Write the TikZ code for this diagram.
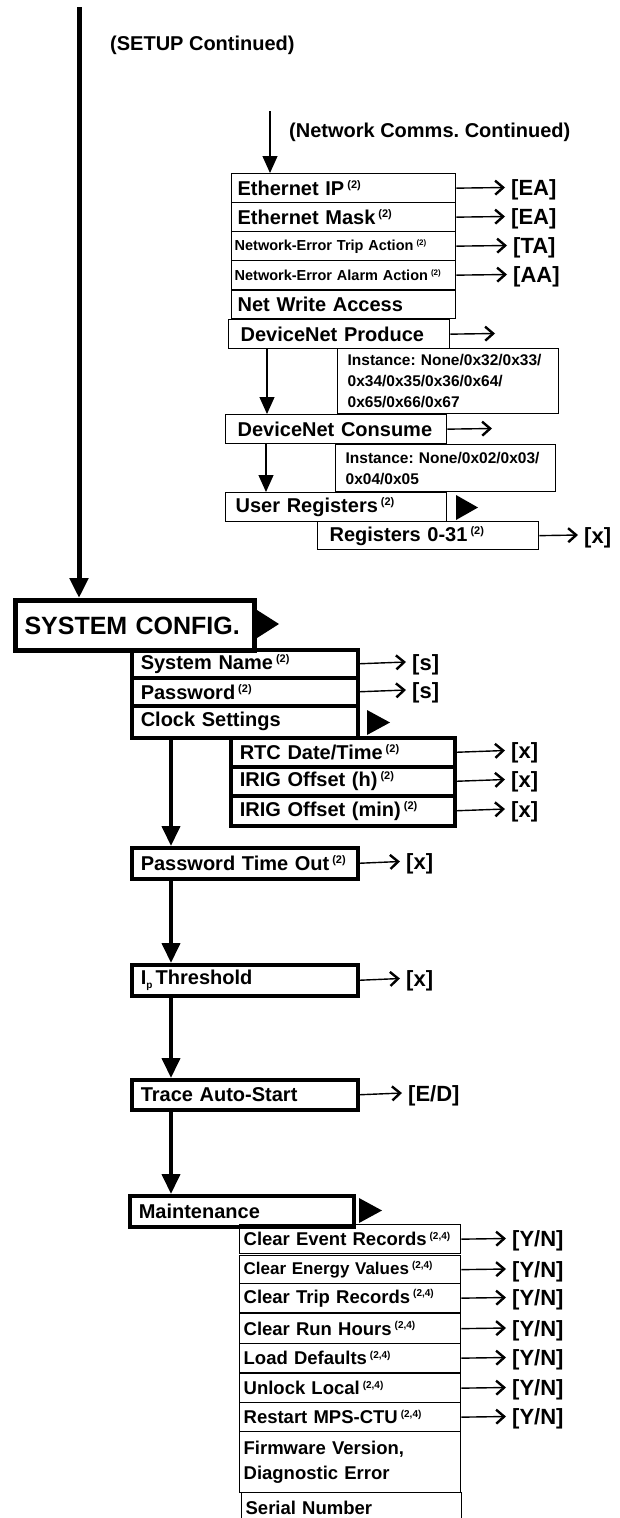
\documentclass[tikz,border=0pt]{standalone}
\usepackage{fontspec}
\setmainfont{Liberation Sans}
\usetikzlibrary{arrows.meta, calc}
\frenchspacing
\newcommand{\supnote}[2][11]{\hspace{3pt}\raisebox{0.35em}{\fontsize{#1}{#1}\selectfont(#2)}}
\tikzset{
  menubox/.style={draw, line width=1.3pt, anchor=north west, inner xsep=6pt, inner ysep=0pt,
                  align=left, font=\fontsize{20}{24}\selectfont\bfseries},
  boldbox/.style={menubox, line width=3.5pt, inner xsep=9pt},
  headbox/.style={menubox, line width=5pt, inner xsep=9pt, font=\fontsize{25}{30}\selectfont\bfseries},
  smallbox/.style={menubox, inner xsep=3pt, font=\fontsize{14.5}{18}\selectfont\bfseries},
  infobox/.style={menubox, inner xsep=10pt, font=\fontsize{15.5}{21}\selectfont\bfseries},
  maintbox/.style={menubox, inner xsep=4pt, font=\fontsize{18.5}{25}\selectfont\bfseries},
  valtext/.style={anchor=west, inner xsep=6pt, inner ysep=0pt, text height=16pt, text depth=0pt,
                  font=\fontsize{22}{26}\selectfont\bfseries},
  captext/.style={anchor=west, inner sep=0pt, font=\fontsize{20}{24}\selectfont\bfseries},
  valarrow/.style={-{Straight Barb[length=8pt, width=14pt, line width=2.4pt]}, line width=1.4pt},
  mainflow/.style={-{Triangle[length=20pt, width=18pt]}, line width=5pt},
  flow/.style={-{Triangle[length=20pt, width=18pt]}, line width=4pt},
  thinflow/.style={-{Triangle[length=17pt, width=15pt]}, line width=1.2pt},
  pointer/.style={fill=black},
}

\begin{document}
\begin{tikzpicture}[x=1pt, y=-1pt]
  \useasboundingbox (0,0) rectangle (619,1518);
  \clip (0,0) rectangle (619,1518);

  % Setup continued
  \coordinate (setuptop) at (79,7);
  \node[captext] (setup) at (110,45) {(SETUP Continued)};

  % Network comms continued
  \coordinate (netin) at (270,111);
  \node[captext] (netcap) at (289,132) {(Network Comms. Continued)};
  \node[menubox, text width=212pt, minimum height=29pt] (ethip) at (231,173) {Ethernet IP\supnote{2}};
  \node[menubox, text width=212pt, minimum height=29pt] (ethmask) at (231,202) {Ethernet Mask\supnote{2}};
  \node[smallbox, text width=218pt, minimum height=29pt] (nettrip) at (231,231) {Network-Error Trip Action\supnote[8]{2}};
  \node[smallbox, text width=218pt, minimum height=29pt] (netalarm) at (231,260) {Network-Error Alarm Action\supnote[8]{2}};
  \node[menubox, text width=212pt, minimum height=28pt] (netwrite) at (231,290) {Net Write Access};
  \node[menubox, inner xsep=12pt, text width=197pt, minimum height=29pt] (dnprod) at (228,319) {DeviceNet Produce};
  \node[infobox, text width=201pt, minimum height=65pt] (prodinst) at (337,348) {Instance: None/0x32/0x33/\\0x34/0x35/0x36/0x64/\\0x65/0x66/0x67};
  \node[menubox, inner xsep=12pt, text width=197pt, minimum height=29pt] (dncons) at (225,414) {DeviceNet Consume};
  \node[infobox, text width=200pt, minimum height=47pt] (consinst) at (335,444) {Instance: None/0x02/0x03/\\0x04/0x05};
  \node[menubox, inner xsep=10pt, text width=201pt, minimum height=29pt] (userreg) at (225,492) {User Registers\supnote{2}};
  \node[menubox, inner xsep=12pt, text width=197pt, minimum height=28pt] (regs) at (317,521) {Registers 0-31\supnote{2}};
  \fill[pointer] (456,495) -- (478,507.5) -- (456,520) -- cycle;

  % Network values
  \node[valtext] (ethipv) at (505,187.5) {[EA]};
  \node[valtext] (ethmaskv) at (505,216.5) {[EA]};
  \node[valtext] (nettripv) at (507,245.5) {[TA]};
  \node[valtext] (netalarmv) at (507,274.5) {[AA]};
  \node[valtext] (regsv) at (578,535) {[x]};
  \coordinate (prodout) at (495,333.5);
  \coordinate (consout) at (492,428.5);

  \draw[thinflow] (netin) -- (netin |- ethip.north);
  \draw[valarrow] (ethip.east) -- (ethipv.west);
  \draw[valarrow] (ethmask.east) -- (ethmaskv.west);
  \draw[valarrow] (nettrip.east) -- (nettripv.west);
  \draw[valarrow] (netalarm.east) -- (netalarmv.west);
  \draw[valarrow] (dnprod.east) -- (prodout);
  \draw[valarrow] (dncons.east) -- (consout);
  \draw[valarrow] (regs.east) -- (regsv.west);
  \coordinate (prodstem) at ([xshift=39pt]dnprod.south west);
  \coordinate (consstem) at ([xshift=41pt]dncons.south west);
  \draw[thinflow] (prodstem) -- (prodstem |- dncons.north);
  \draw[thinflow] (consstem) -- (consstem |- userreg.north);

  % System config
  \node[headbox, text width=221pt, minimum height=50pt] (syscfg) at (13,598) {SYSTEM CONFIG.};
  \fill[pointer] (257,610) -- (279,624) -- (257,638) -- cycle;
  \draw[mainflow] (setuptop) -- (setuptop |- syscfg.north);

  \node[boldbox, text width=208pt, minimum height=28pt] (sysname) at (130,648) {System Name\supnote{2}};
  \node[boldbox, text width=208pt, minimum height=28pt] (pwd) at (130,676) {Password\supnote{2}};
  \node[boldbox, text width=208pt, minimum height=32pt] (clock) at (130,704) {Clock Settings};
  \fill[pointer] (367,710) -- (390,722.5) -- (367,735) -- cycle;
  \node[boldbox, text width=206pt, minimum height=29pt] (rtc) at (229,736) {RTC Date/Time\supnote{2}};
  \node[boldbox, text width=206pt, minimum height=29pt] (irigh) at (229,765) {IRIG Offset (h)\supnote{2}};
  \node[boldbox, text width=206pt, minimum height=30pt] (irigmin) at (229,794) {IRIG Offset (min)\supnote{2}};
  \node[boldbox, text width=208pt, minimum height=31pt] (pwdto) at (130,846) {Password Time Out\supnote{2}};
  \node[boldbox, text width=208pt, minimum height=31pt] (ipth) at (130,963) {I\raisebox{-4pt}{\fontsize{10}{10}\selectfont p}\,Threshold};
  \node[boldbox, text width=208pt, minimum height=30pt] (trace) at (130,1078) {Trace Auto-Start};
  \node[boldbox, text width=206pt, minimum height=31pt] (maint) at (128,1194) {Maintenance};
  \fill[pointer] (359,1198) -- (382,1210.5) -- (359,1223) -- cycle;

  % System config values
  \node[valtext] (sysnamev) at (406,662) {[s]};
  \node[valtext] (pwdv) at (406,690) {[s]};
  \node[valtext] (rtcv) at (505,750.5) {[x]};
  \node[valtext] (irighv) at (505,779.5) {[x]};
  \node[valtext] (irigminv) at (505,809) {[x]};
  \node[valtext] (pwdtov) at (400,861.5) {[x]};
  \node[valtext] (ipthv) at (400,978.5) {[x]};
  \node[valtext] (tracev) at (402,1093) {[E/D]};

  \draw[valarrow] (sysname.east) -- (sysnamev.west);
  \draw[valarrow] (pwd.east) -- (pwdv.west);
  \draw[valarrow] (rtc.east) -- (rtcv.west);
  \draw[valarrow] (irigh.east) -- (irighv.west);
  \draw[valarrow] (irigmin.east) -- (irigminv.west);
  \draw[valarrow] (pwdto.east) -- (pwdtov.west);
  \draw[valarrow] (ipth.east) -- (ipthv.west);
  \draw[valarrow] (trace.east) -- (tracev.west);

  \coordinate (cfgstem) at ([xshift=41pt]clock.south west);
  \draw[flow] (cfgstem) -- (cfgstem |- pwdto.north);
  \draw[flow] (cfgstem |- pwdto.south) -- (cfgstem |- ipth.north);
  \draw[flow] (cfgstem |- ipth.south) -- (cfgstem |- trace.north);
  \draw[flow] (cfgstem |- trace.south) -- (cfgstem |- maint.north);

  % Maintenance
  \node[maintbox, text width=213pt, minimum height=29pt] (clrevt) at (239,1224) {Clear Event Records\supnote[10]{2,4}};
  \node[maintbox, text width=213pt, minimum height=28pt, font=\fontsize{17}{20}\selectfont\bfseries] (clrenergy) at (239,1255) {Clear Energy Values\supnote[10]{2,4}};
  \node[maintbox, text width=213pt, minimum height=29pt] (clrtrip) at (239,1283) {Clear Trip Records\supnote[10]{2,4}};
  \node[maintbox, text width=213pt, minimum height=30pt] (clrrun) at (239,1313) {Clear Run Hours\supnote[10]{2,4}};
  \node[maintbox, text width=213pt, minimum height=29pt] (loaddef) at (239,1343) {Load Defaults\supnote[10]{2,4}};
  \node[maintbox, text width=213pt, minimum height=29pt] (unlock) at (239,1373) {Unlock Local\supnote[10]{2,4}};
  \node[maintbox, text width=213pt, minimum height=29pt] (restart) at (239,1402) {Restart MPS-CTU\supnote[10]{2,4}};
  \node[maintbox, text width=213pt, minimum height=61pt] (firmware) at (239,1431) {Firmware Version,\\Diagnostic Error};
  \node[maintbox, text width=212pt, minimum height=30pt] (serial) at (241,1492) {Serial Number};

  \foreach \item/\y in {clrevt/1238.5, clrenergy/1269, clrtrip/1297.5, clrrun/1328, loaddef/1357.5, unlock/1387.5, restart/1416.5} {
    \node[valtext] (\item v) at (506,\y) {[Y/N]};
    \draw[valarrow] (\item.east) -- (\item v.west);
  }
\end{tikzpicture}
\end{document}
